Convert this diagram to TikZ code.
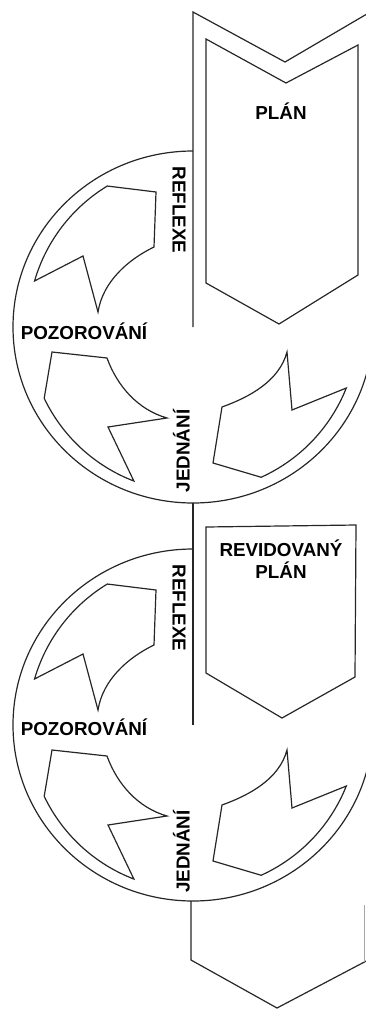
\documentclass[tikz,border=0pt]{standalone}
\usepackage{fontspec}
\setmainfont{Liberation Sans}
% the three curved arrows of one cycle, drawn around the cycle's centre
\newcommand\ringarrows{%
  % observing -> reflecting
  \draw[ink] (238.7:165) -- (-37,-135) -- (-39,-80)
    .. controls (-66,-66.9) and (-90.3,-44.6) .. (-95,-15)
    -- (-110,-71) -- (196.2:165)
    arc[start angle=196.2,end angle=238.7,radius=165] -- cycle;
  % acting -> observing
  \draw[ink] (-141,25) -- (-86,31)
    .. controls (-75.8,59.2) and (-54.9,82.8) .. (-26,91)
    -- (-85,100) -- (111:165)
    arc[start angle=111,end angle=154.4,radius=165] -- cycle;
  % plan -> acting
  \draw[ink] (94,25)
    .. controls (86.3,53.8) and (57,69.9) .. (29,80)
    -- (20,136) -- (65.6:165)
    arc[start angle=65.6,end angle=21.7,radius=165]
    -- (99,83) -- cycle;
}
\begin{document}
\begin{tikzpicture}[x=1pt,y=-1pt,
  ink/.style={draw=black!85,line width=1.2pt,line join=miter},
  lbl/.style={font=\fontsize{18.8}{22}\selectfont\bfseries,inner sep=0pt,text=black,anchor=base},
]
\useasboundingbox (0,0) rectangle (366,1010);
\clip (0,0) rectangle (366,1010);

% --- first plan: band and its inner arrow
\draw[ink] (193,327) -- (193,12) -- (285,62) -- (372,11);
\draw[ink] (206,39) -- (286,83) -- (358,45) -- (358,275) -- (279,324) -- (206,283) -- cycle;
\node[lbl] (plan) at (281,119) {PLÁN};

% --- first cycle
\begin{scope}[shift={(193,327)}]
  \draw[ink] (180,0) arc[start angle=0,end angle=270,x radius=180,y radius=176];
  \ringarrows
\end{scope}
\node[lbl,rotate=-90] (refl1) at (172.5,210) {REFLEXE};
\node[lbl] (poz1) at (84,339) {POZOROVÁNÍ};
\node[lbl,rotate=90] (jedn1) at (189.5,451) {JEDNÁNÍ};

% --- revised plan
\draw[ink] (193,503) -- (193,725);
\draw[ink] (206,527) -- (356,525) -- (355,677) -- (282,718) -- (206,673) -- cycle;
\node[lbl,align=center] (rplan) at (281,578) {REVIDOVANÝ\\PLÁN};

% --- second cycle
\begin{scope}[shift={(193,725)}]
  \draw[ink] (180,0) arc[start angle=0,end angle=270,x radius=180,y radius=176];
  \ringarrows
\end{scope}
\node[lbl,rotate=-90] (refl2) at (172.5,608) {REFLEXE};
\node[lbl] (poz2) at (84,735) {POZOROVÁNÍ};
\node[lbl,rotate=90] (jedn2) at (189.5,851.5) {JEDNÁNÍ};

% --- band continuing below
\draw[ink] (191,901) -- (191,960) -- (277,1008) -- (372,958);
\draw[ink,draw=black!35] (364.5,905) -- (364.5,962);
\end{tikzpicture}
\end{document}
